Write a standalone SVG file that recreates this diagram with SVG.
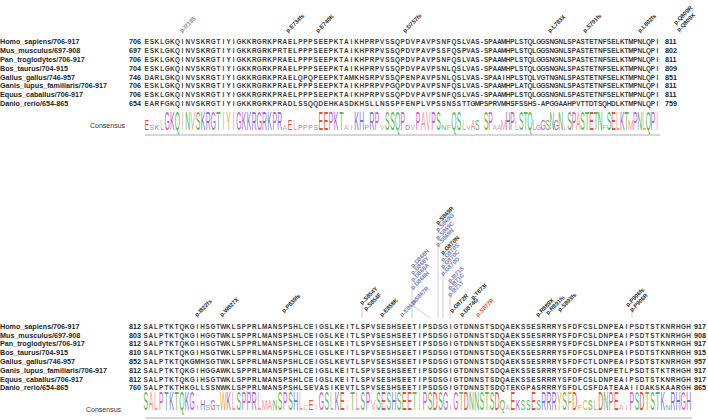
<svg xmlns="http://www.w3.org/2000/svg" width="708" height="420" viewBox="0 0 708 420">
<style>
.sp{font:bold 7.2px "Liberation Sans",Arial,sans-serif;fill:#1e1e1e}
.num{font:bold 7.2px "Liberation Sans",Arial,sans-serif;fill:#1e1e1e}
.sq{font:bold 6.4px "Liberation Sans",Arial,sans-serif;fill:#3a3a3a;text-anchor:middle}
.cons{font:7px "Liberation Sans",Arial,sans-serif;fill:#333}
.lg{font:6.8px "Liberation Sans",Arial,sans-serif;text-anchor:middle}
.mt{font:bold 5.8px "Liberation Sans",Arial,sans-serif;fill:#2a2a2a}
.mb{fill:#7a7ab0}
.mr{fill:#e0503c}
.ld{stroke:#b0b0b0;stroke-width:0.6;fill:none}
.base{stroke:#c8c8c8;stroke-width:1.6}
.D,.E{fill:#e5533f}
.K,.R,.H{fill:#7f72d8}
.S,.T,.N,.Q{fill:#58b858}
.P,.G{fill:#d263c4}
.I,.L,.V,.A,.M{fill:#f19c9c}
.F,.W,.Y{fill:#eeaa30}
.C{fill:#cfc43a}
</style>

<g id="top-block">
<g id="top-names">
<text class="sp" x="0" y="44.3">Homo_sapiens/706-917</text>
<text class="sp" x="0" y="53.1">Mus_musculus/697-908</text>
<text class="sp" x="0" y="61.9">Pan_troglodytes/706-917</text>
<text class="sp" x="0" y="70.7">Bos_taurus/704-915</text>
<text class="sp" x="0" y="79.5">Gallus_gallus/746-957</text>
<text class="sp" x="0" y="88.4">Ganis_lupus_familiaris/706-917</text>
<text class="sp" x="0" y="97.2">Equus_caballus/706-917</text>
<text class="sp" x="0" y="106">Danio_rerio/654-865</text>
</g>
<g id="top-start">
<text class="num" x="129" y="44.3">706</text>
<text class="num" x="129" y="53.1">697</text>
<text class="num" x="129" y="61.9">706</text>
<text class="num" x="129" y="70.7">704</text>
<text class="num" x="129" y="79.5">746</text>
<text class="num" x="129" y="88.4">706</text>
<text class="num" x="129" y="97.2">706</text>
<text class="num" x="129" y="106">654</text>
</g>
<g id="top-end">
<text class="num" x="665" y="44.3">811</text>
<text class="num" x="665" y="53.1">802</text>
<text class="num" x="665" y="61.9">811</text>
<text class="num" x="665" y="70.7">809</text>
<text class="num" x="665" y="79.5">851</text>
<text class="num" x="665" y="88.4">811</text>
<text class="num" x="665" y="97.2">811</text>
<text class="num" x="665" y="106">759</text>
</g>
<g id="top-seq">
<text class="sq" y="44.3" x="146.7 151.8 156.9 162.1 167.2 172.3 177.4 182.5 187.7 192.8 197.9 203 208.1 213.3 218.4 223.5 228.6 233.7 238.9 244 249.1 254.2 259.3 264.5 269.6 274.7 279.8 284.9 290.1 295.2 300.3 305.4 310.5 315.7 320.8 325.9 331 336.1 341.3 346.4 351.5 356.6 361.7 366.9 372 377.1 382.2 387.3 392.5 397.6 402.7 407.8 412.9 418.1 423.2 428.3 433.4 438.5 443.7 448.8 453.9 459 464.1 468.5 472.9 477.3 481.7 486.1 490.4 494.8 499.2 503.6 508 512.4 516.8 521.2 525.6 530 534.3 538.7 543.1 547.5 551.9 556.3 560.7 565.1 569.5 573.9 578.3 582.6 587 591.4 595.8 600.2 604.6 609 613.4 617.8 622.2 626.5 630.9 635.3 639.7 644.1 648.5 652.9 657.3">ESKLGKQINVSKRGTIYIGKKRGRKPRAELPPPSEEPKTAIKHPRPVSSQPDVPAVPSNFQSLVAS-SPAAMHPLSTQLGGSNGNLSPASTETNFSELKTMPNLQPI</text>
<text class="sq" y="53.1" x="146.7 151.8 156.9 162.1 167.2 172.3 177.4 182.5 187.7 192.8 197.9 203 208.1 213.3 218.4 223.5 228.6 233.7 238.9 244 249.1 254.2 259.3 264.5 269.6 274.7 279.8 284.9 290.1 295.2 300.3 305.4 310.5 315.7 320.8 325.9 331 336.1 341.3 346.4 351.5 356.6 361.7 366.9 372 377.1 382.2 387.3 392.5 397.6 402.7 407.8 412.9 418.1 423.2 428.3 433.4 438.5 443.7 448.8 453.9 459 464.1 468.5 472.9 477.3 481.7 486.1 490.4 494.8 499.2 503.6 508 512.4 516.8 521.2 525.6 530 534.3 538.7 543.1 547.5 551.9 556.3 560.7 565.1 569.5 573.9 578.3 582.6 587 591.4 595.8 600.2 604.6 609 613.4 617.8 622.2 626.5 630.9 635.3 639.7 644.1 648.5 652.9 657.3">ESKLGKQINVSKRGTIYIGKKRGRKPRTELPPPSEEPKTAIKHPRPVSSQPDVPAVPSSFQSPVAS-SPAAMHPLSTQLGGSNGNLSPASTETNFSELKTMPNLQPI</text>
<text class="sq" y="61.9" x="146.7 151.8 156.9 162.1 167.2 172.3 177.4 182.5 187.7 192.8 197.9 203 208.1 213.3 218.4 223.5 228.6 233.7 238.9 244 249.1 254.2 259.3 264.5 269.6 274.7 279.8 284.9 290.1 295.2 300.3 305.4 310.5 315.7 320.8 325.9 331 336.1 341.3 346.4 351.5 356.6 361.7 366.9 372 377.1 382.2 387.3 392.5 397.6 402.7 407.8 412.9 418.1 423.2 428.3 433.4 438.5 443.7 448.8 453.9 459 464.1 468.5 472.9 477.3 481.7 486.1 490.4 494.8 499.2 503.6 508 512.4 516.8 521.2 525.6 530 534.3 538.7 543.1 547.5 551.9 556.3 560.7 565.1 569.5 573.9 578.3 582.6 587 591.4 595.8 600.2 604.6 609 613.4 617.8 622.2 626.5 630.9 635.3 639.7 644.1 648.5 652.9 657.3">ESKLGKQINVSKRGTIYIGKKRGRKPRAELPPPSEEPKTAIKHPRPVSSQPDVPAVPSNFQSLVAS-SPAAMHPLSTQLGGSNGNLSPASTETNFSELKTMPNLQPI</text>
<text class="sq" y="70.7" x="146.7 151.8 156.9 162.1 167.2 172.3 177.4 182.5 187.7 192.8 197.9 203 208.1 213.3 218.4 223.5 228.6 233.7 238.9 244 249.1 254.2 259.3 264.5 269.6 274.7 279.8 284.9 290.1 295.2 300.3 305.4 310.5 315.7 320.8 325.9 331 336.1 341.3 346.4 351.5 356.6 361.7 366.9 372 377.1 382.2 387.3 392.5 397.6 402.7 407.8 412.9 418.1 423.2 428.3 433.4 438.5 443.7 448.8 453.9 459 464.1 468.5 472.9 477.3 481.7 486.1 490.4 494.8 499.2 503.6 508 512.4 516.8 521.2 525.6 530 534.3 538.7 543.1 547.5 551.9 556.3 560.7 565.1 569.5 573.9 578.3 582.6 587 591.4 595.8 600.2 604.6 609 613.4 617.8 622.2 626.5 630.9 635.3 639.7 644.1 648.5 652.9 657.3">ESKLGKQINVSKRGTIYIGKKRGRKPRAELPPPSEEPKTAIKHPRPVSSQPDVPAVPSNLQSLVAS-SPAAMHPLSTQLGGSNGNLSPASTETNFSELKTMPNLQPI</text>
<text class="sq" y="79.5" x="146.7 151.8 156.9 162.1 167.2 172.3 177.4 182.5 187.7 192.8 197.9 203 208.1 213.3 218.4 223.5 228.6 233.7 238.9 244 249.1 254.2 259.3 264.5 269.6 274.7 279.8 284.9 290.1 295.2 300.3 305.4 310.5 315.7 320.8 325.9 331 336.1 341.3 346.4 351.5 356.6 361.7 366.9 372 377.1 382.2 387.3 392.5 397.6 402.7 407.8 412.9 418.1 423.2 428.3 433.4 438.5 443.7 448.8 453.9 459 464.1 468.5 472.9 477.3 481.7 486.1 490.4 494.8 499.2 503.6 508 512.4 516.8 521.2 525.6 530 534.3 538.7 543.1 547.5 551.9 556.3 560.7 565.1 569.5 573.9 578.3 582.6 587 591.4 595.8 600.2 604.6 609 613.4 617.8 622.2 626.5 630.9 635.3 639.7 644.1 648.5 652.9 657.3">DARLGKQINVSKRGTIYIGKKRGRKPRAELQPQPEEPKTAMKHSRPVSSQPENPAVPSNLQSLVAS-SPAAIHPLSTQLVGTNGNLSPASTETNFSELKTMPNLQPI</text>
<text class="sq" y="88.4" x="146.7 151.8 156.9 162.1 167.2 172.3 177.4 182.5 187.7 192.8 197.9 203 208.1 213.3 218.4 223.5 228.6 233.7 238.9 244 249.1 254.2 259.3 264.5 269.6 274.7 279.8 284.9 290.1 295.2 300.3 305.4 310.5 315.7 320.8 325.9 331 336.1 341.3 346.4 351.5 356.6 361.7 366.9 372 377.1 382.2 387.3 392.5 397.6 402.7 407.8 412.9 418.1 423.2 428.3 433.4 438.5 443.7 448.8 453.9 459 464.1 468.5 472.9 477.3 481.7 486.1 490.4 494.8 499.2 503.6 508 512.4 516.8 521.2 525.6 530 534.3 538.7 543.1 547.5 551.9 556.3 560.7 565.1 569.5 573.9 578.3 582.6 587 591.4 595.8 600.2 604.6 609 613.4 617.8 622.2 626.5 630.9 635.3 639.7 644.1 648.5 652.9 657.3">ESKLGKQINVSKRGTIYIGKKRGRKPRAELPPPSEEPKTAIKHPRPVPGQPDVPAVPSNFQSLVAS-SPAAMHPLATQLGGSNGNLSPASTETNFSELKTMPNLQPI</text>
<text class="sq" y="97.2" x="146.7 151.8 156.9 162.1 167.2 172.3 177.4 182.5 187.7 192.8 197.9 203 208.1 213.3 218.4 223.5 228.6 233.7 238.9 244 249.1 254.2 259.3 264.5 269.6 274.7 279.8 284.9 290.1 295.2 300.3 305.4 310.5 315.7 320.8 325.9 331 336.1 341.3 346.4 351.5 356.6 361.7 366.9 372 377.1 382.2 387.3 392.5 397.6 402.7 407.8 412.9 418.1 423.2 428.3 433.4 438.5 443.7 448.8 453.9 459 464.1 468.5 472.9 477.3 481.7 486.1 490.4 494.8 499.2 503.6 508 512.4 516.8 521.2 525.6 530 534.3 538.7 543.1 547.5 551.9 556.3 560.7 565.1 569.5 573.9 578.3 582.6 587 591.4 595.8 600.2 604.6 609 613.4 617.8 622.2 626.5 630.9 635.3 639.7 644.1 648.5 652.9 657.3">ESKLGKQINVSKRGTIYIGKKRGRKPRAELPPPSEEPKTAIKHPRPVSSQPDVPAVPSNFQSLVAS-SPAAMHPLSTQLGGSNGNLSPASTETNFSELKTMPNLQPI</text>
<text class="sq" y="106" x="146.7 151.8 156.9 162.1 167.2 172.3 177.4 182.5 187.7 192.8 197.9 203 208.1 213.3 218.4 223.5 228.6 233.7 238.9 244 249.1 254.2 259.3 264.5 269.6 274.7 279.8 284.9 290.1 295.2 300.3 305.4 310.5 315.7 320.8 325.9 331 336.1 341.3 346.4 351.5 356.6 361.7 366.9 372 377.1 382.2 387.3 392.5 397.6 402.7 407.8 412.9 418.1 423.2 428.3 433.4 438.5 443.7 448.8 453.9 459 464.1 468.5 472.9 477.3 481.7 486.1 490.4 494.8 499.2 503.6 508 512.4 516.8 521.2 525.6 530 534.3 538.7 543.1 547.5 551.9 556.3 560.7 565.1 569.5 573.9 578.3 582.6 587 591.4 595.8 600.2 604.6 609 613.4 617.8 622.2 626.5 630.9 635.3 639.7 644.1 648.5 652.9 657.3">EARFGKQINVSKRGTIYIGKKRGRKPRADLSSQQDEHKASDKHSLLNSSPFENPLVPSSNSSTTGMPSPRVMHSFSSHS-APGGAAHPVTTDTSQHDLKTMPNLQPI</text>
</g>
<text class="cons" x="90" y="128">Consensus</text>
<g id="top-logo">
<text class="lg" transform="translate(0,129.5) scale(1,3.7)"><tspan class="G" x="167.2">G</tspan><tspan class="K" x="172.3">K</tspan><tspan class="Q" x="177.4">Q</tspan><tspan class="I" x="182.5">I</tspan><tspan class="N" x="187.7">N</tspan><tspan class="V" x="192.8">V</tspan><tspan class="S" x="197.9">S</tspan><tspan class="K" x="203">K</tspan><tspan class="R" x="208.1">R</tspan><tspan class="G" x="213.3">G</tspan><tspan class="T" x="218.4">T</tspan><tspan class="I" x="223.5">I</tspan><tspan class="Y" x="228.6">Y</tspan><tspan class="I" x="233.7">I</tspan><tspan class="G" x="238.9">G</tspan><tspan class="K" x="244">K</tspan><tspan class="K" x="249.1">K</tspan><tspan class="R" x="254.2">R</tspan><tspan class="G" x="259.3">G</tspan><tspan class="R" x="264.5">R</tspan><tspan class="K" x="269.6">K</tspan><tspan class="P" x="274.7">P</tspan><tspan class="R" x="279.8">R</tspan><tspan class="E" x="320.8">E</tspan><tspan class="E" x="325.9">E</tspan><tspan class="P" x="331">P</tspan><tspan class="K" x="336.1">K</tspan><tspan class="T" x="341.3">T</tspan><tspan class="K" x="356.6">K</tspan><tspan class="H" x="361.7">H</tspan><tspan class="R" x="372">R</tspan><tspan class="P" x="377.1">P</tspan><tspan class="S" x="387.3">S</tspan><tspan class="S" x="392.5">S</tspan><tspan class="Q" x="397.6">Q</tspan><tspan class="P" x="402.7">P</tspan><tspan class="P" x="418.1">P</tspan><tspan class="A" x="423.2">A</tspan><tspan class="V" x="428.3">V</tspan><tspan class="P" x="433.4">P</tspan><tspan class="S" x="438.5">S</tspan><tspan class="Q" x="453.9">Q</tspan><tspan class="S" x="459">S</tspan><tspan class="S" x="486.1">S</tspan><tspan class="P" x="490.4">P</tspan><tspan class="H" x="508">H</tspan><tspan class="P" x="512.4">P</tspan><tspan class="S" x="521.2">S</tspan><tspan class="T" x="525.6">T</tspan><tspan class="Q" x="530">Q</tspan><tspan class="N" x="551.9">N</tspan><tspan class="N" x="560.7">N</tspan><tspan class="S" x="569.5">S</tspan><tspan class="P" x="573.9">P</tspan><tspan class="A" x="578.3">A</tspan><tspan class="S" x="582.6">S</tspan><tspan class="T" x="587">T</tspan><tspan class="E" x="591.4">E</tspan><tspan class="T" x="595.8">T</tspan><tspan class="N" x="600.2">N</tspan><tspan class="S" x="609">S</tspan><tspan class="E" x="613.4">E</tspan><tspan class="L" x="617.8">L</tspan><tspan class="K" x="622.2">K</tspan><tspan class="T" x="626.5">T</tspan><tspan class="P" x="635.3">P</tspan><tspan class="N" x="639.7">N</tspan><tspan class="L" x="644.1">L</tspan><tspan class="Q" x="648.5">Q</tspan><tspan class="P" x="652.9">P</tspan><tspan class="I" x="657.3">I</tspan></text>
<text class="lg" transform="translate(0,129.5) scale(1,2.26)"><tspan class="E" x="146.7">E</tspan><tspan class="L" x="162.1">L</tspan><tspan class="E" x="290.1">E</tspan><tspan class="L" x="295.2">L</tspan><tspan class="L" x="464.1">L</tspan><tspan class="A" x="472.9">A</tspan><tspan class="S" x="477.3">S</tspan><tspan class="M" x="503.6">M</tspan><tspan class="L" x="516.8">L</tspan><tspan class="L" x="534.3">L</tspan><tspan class="G" x="543.1">G</tspan><tspan class="S" x="547.5">S</tspan><tspan class="G" x="556.3">G</tspan><tspan class="M" x="630.9">M</tspan></text>
<text class="lg" transform="translate(0,129.5) scale(1,1.13)"><tspan class="S" x="151.8">S</tspan><tspan class="K" x="156.9">K</tspan><tspan class="A" x="284.9">A</tspan><tspan class="P" x="300.3">P</tspan><tspan class="P" x="305.4">P</tspan><tspan class="P" x="310.5">P</tspan><tspan class="S" x="315.7">S</tspan><tspan class="A" x="346.4">A</tspan><tspan class="I" x="351.5">I</tspan><tspan class="P" x="366.9">P</tspan><tspan class="V" x="382.2">V</tspan><tspan class="D" x="407.8">D</tspan><tspan class="V" x="412.9">V</tspan><tspan class="N" x="443.7">N</tspan><tspan class="F" x="448.8">F</tspan><tspan class="V" x="468.5">V</tspan><tspan class="A" x="494.8">A</tspan><tspan class="A" x="499.2">A</tspan><tspan class="G" x="538.7">G</tspan><tspan class="L" x="565.1">L</tspan><tspan class="F" x="604.6">F</tspan></text>
<line class="base" x1="145" y1="135" x2="660" y2="135"/>
</g>
<g id="top-mutations">
<text class="mt mb" transform="translate(182,33) rotate(-45)">p.I713S</text>
<text class="mt" transform="translate(288,33) rotate(-45)">p.E734fs</text>
<text class="mt" transform="translate(318,33) rotate(-45)">p.E740K</text>
<text class="mt" transform="translate(405,33) rotate(-45)">p.D757fs</text>
<text class="mt" transform="translate(550,33) rotate(-45)">p.L783X</text>
<text class="mt" transform="translate(585,33) rotate(-45)">p.S791fs</text>
<text class="mt" transform="translate(640,33) rotate(-45)">p.L802fs</text>
<text class="mt" transform="translate(676,25) rotate(-45)">p.Q809R</text>
<text class="mt" transform="translate(679,32) rotate(-45)">p.Q809X</text>
</g>
</g>

<g id="bottom-block">
<g id="bottom-names">
<text class="sp" x="0" y="328.7">Homo_sapiens/706-917</text>
<text class="sp" x="0" y="337.5">Mus_musculus/697-908</text>
<text class="sp" x="0" y="346.3">Pan_troglodytes/706-917</text>
<text class="sp" x="0" y="355.1">Bos_taurus/704-915</text>
<text class="sp" x="0" y="363.9">Gallus_gallus/746-957</text>
<text class="sp" x="0" y="372.7">Ganis_lupus_familiaris/706-917</text>
<text class="sp" x="0" y="381.5">Equus_caballus/706-917</text>
<text class="sp" x="0" y="390.3">Danio_rerio/654-865</text>
</g>
<g id="bottom-start">
<text class="num" x="129" y="328.7">812</text>
<text class="num" x="129" y="337.5">803</text>
<text class="num" x="129" y="346.3">812</text>
<text class="num" x="129" y="355.1">810</text>
<text class="num" x="129" y="363.9">852</text>
<text class="num" x="129" y="372.7">812</text>
<text class="num" x="129" y="381.5">812</text>
<text class="num" x="129" y="390.3">760</text>
</g>
<g id="bottom-end">
<text class="num" x="694" y="328.7">917</text>
<text class="num" x="694" y="337.5">908</text>
<text class="num" x="694" y="346.3">917</text>
<text class="num" x="694" y="355.1">915</text>
<text class="num" x="694" y="363.9">957</text>
<text class="num" x="694" y="372.7">917</text>
<text class="num" x="694" y="381.5">917</text>
<text class="num" x="694" y="390.3">865</text>
</g>
<g id="bottom-seq">
<text class="sq" y="328.7" x="145.7 150.9 156 161.2 166.4 171.6 176.7 181.9 187.1 192.2 197.4 202.6 207.7 212.9 218.1 223.3 228.4 233.6 238.8 243.9 249.1 254.3 259.4 264.6 269.8 275 280.1 285.3 290.5 295.6 300.8 306 311.1 316.3 321.5 326.7 331.8 337 342.2 347.3 352.5 357.7 362.8 368 373.2 378.4 383.5 388.7 393.9 399 404.2 409.4 414.5 419.7 424.9 430.1 435.2 440.4 445.6 450.7 455.9 461.1 466.2 471.4 476.6 481.8 486.9 492.1 497.3 502.4 507.6 512.8 517.9 523.1 528.3 533.5 538.6 543.8 549 554.1 559.3 564.5 569.6 574.8 580 585.2 590.3 595.5 600.7 605.8 611 616.2 621.3 626.5 631.7 636.9 642 647.2 652.4 657.5 662.7 667.9 673 678.2 683.4 688.6">SALPTKTQKGIHSGTWKLSPPRLMANSPSHLCEIGSLKEITLSPVSESHSEETIPSDSGIGTDNNSTSDQAEKSSESRRRYSFDFCSLDNPEAIPSDTSTKNRHGH</text>
<text class="sq" y="337.5" x="145.7 150.9 156 161.2 166.4 171.6 176.7 181.9 187.1 192.2 197.4 202.6 207.7 212.9 218.1 223.3 228.4 233.6 238.8 243.9 249.1 254.3 259.4 264.6 269.8 275 280.1 285.3 290.5 295.6 300.8 306 311.1 316.3 321.5 326.7 331.8 337 342.2 347.3 352.5 357.7 362.8 368 373.2 378.4 383.5 388.7 393.9 399 404.2 409.4 414.5 419.7 424.9 430.1 435.2 440.4 445.6 450.7 455.9 461.1 466.2 471.4 476.6 481.8 486.9 492.1 497.3 502.4 507.6 512.8 517.9 523.1 528.3 533.5 538.6 543.8 549 554.1 559.3 564.5 569.6 574.8 580 585.2 590.3 595.5 600.7 605.8 611 616.2 621.3 626.5 631.7 636.9 642 647.2 652.4 657.5 662.7 667.9 673 678.2 683.4 688.6">SALPTKTQKGIHGGTWKLSPPRLMANSPSHLCEIGSLKEITLSPVSESHSEETIPSDSGIGTDNNSTSDQAEKSSESRRRYSFDFCSLDNPEAIPSDTSTKNRHGH</text>
<text class="sq" y="346.3" x="145.7 150.9 156 161.2 166.4 171.6 176.7 181.9 187.1 192.2 197.4 202.6 207.7 212.9 218.1 223.3 228.4 233.6 238.8 243.9 249.1 254.3 259.4 264.6 269.8 275 280.1 285.3 290.5 295.6 300.8 306 311.1 316.3 321.5 326.7 331.8 337 342.2 347.3 352.5 357.7 362.8 368 373.2 378.4 383.5 388.7 393.9 399 404.2 409.4 414.5 419.7 424.9 430.1 435.2 440.4 445.6 450.7 455.9 461.1 466.2 471.4 476.6 481.8 486.9 492.1 497.3 502.4 507.6 512.8 517.9 523.1 528.3 533.5 538.6 543.8 549 554.1 559.3 564.5 569.6 574.8 580 585.2 590.3 595.5 600.7 605.8 611 616.2 621.3 626.5 631.7 636.9 642 647.2 652.4 657.5 662.7 667.9 673 678.2 683.4 688.6">SALPTKTQKGIHSGTWKLSPPRLMANSPSHLCEIGSLKEITLSPVSESHSEETIPSDSGIGTDNNSTSDQAEKSSESRRRYSFDFCSLDNPEAIPSDTSTKNRHGH</text>
<text class="sq" y="355.1" x="145.7 150.9 156 161.2 166.4 171.6 176.7 181.9 187.1 192.2 197.4 202.6 207.7 212.9 218.1 223.3 228.4 233.6 238.8 243.9 249.1 254.3 259.4 264.6 269.8 275 280.1 285.3 290.5 295.6 300.8 306 311.1 316.3 321.5 326.7 331.8 337 342.2 347.3 352.5 357.7 362.8 368 373.2 378.4 383.5 388.7 393.9 399 404.2 409.4 414.5 419.7 424.9 430.1 435.2 440.4 445.6 450.7 455.9 461.1 466.2 471.4 476.6 481.8 486.9 492.1 497.3 502.4 507.6 512.8 517.9 523.1 528.3 533.5 538.6 543.8 549 554.1 559.3 564.5 569.6 574.8 580 585.2 590.3 595.5 600.7 605.8 611 616.2 621.3 626.5 631.7 636.9 642 647.2 652.4 657.5 662.7 667.9 673 678.2 683.4 688.6">SALPTKTQKGIHSGTWKLSPPRLMANSPSHLCEIGSLKEITLSPVSESHSEETIPSDSGIGTDNNSTSDQAEKSSESRRRYSFDFCSLDNPEAIPSDTSTKNRHGH</text>
<text class="sq" y="363.9" x="145.7 150.9 156 161.2 166.4 171.6 176.7 181.9 187.1 192.2 197.4 202.6 207.7 212.9 218.1 223.3 228.4 233.6 238.8 243.9 249.1 254.3 259.4 264.6 269.8 275 280.1 285.3 290.5 295.6 300.8 306 311.1 316.3 321.5 326.7 331.8 337 342.2 347.3 352.5 357.7 362.8 368 373.2 378.4 383.5 388.7 393.9 399 404.2 409.4 414.5 419.7 424.9 430.1 435.2 440.4 445.6 450.7 455.9 461.1 466.2 471.4 476.6 481.8 486.9 492.1 497.3 502.4 507.6 512.8 517.9 523.1 528.3 533.5 538.6 543.8 549 554.1 559.3 564.5 569.6 574.8 580 585.2 590.3 595.5 600.7 605.8 611 616.2 621.3 626.5 631.7 636.9 642 647.2 652.4 657.5 662.7 667.9 673 678.2 683.4 688.6">SALPTKTQKGMHSGTWKLSPPRLMANSPSHLCEIGSLKEVTLSPVSESHSEETIPSDSGIGTDNNSTSDQAEKSSESRRRYSFDFCTLDNPEAIPSDTSTKNRHGH</text>
<text class="sq" y="372.7" x="145.7 150.9 156 161.2 166.4 171.6 176.7 181.9 187.1 192.2 197.4 202.6 207.7 212.9 218.1 223.3 228.4 233.6 238.8 243.9 249.1 254.3 259.4 264.6 269.8 275 280.1 285.3 290.5 295.6 300.8 306 311.1 316.3 321.5 326.7 331.8 337 342.2 347.3 352.5 357.7 362.8 368 373.2 378.4 383.5 388.7 393.9 399 404.2 409.4 414.5 419.7 424.9 430.1 435.2 440.4 445.6 450.7 455.9 461.1 466.2 471.4 476.6 481.8 486.9 492.1 497.3 502.4 507.6 512.8 517.9 523.1 528.3 533.5 538.6 543.8 549 554.1 559.3 564.5 569.6 574.8 580 585.2 590.3 595.5 600.7 605.8 611 616.2 621.3 626.5 631.7 636.9 642 647.2 652.4 657.5 662.7 667.9 673 678.2 683.4 688.6">SALPTKTQKGIHGGAWKLSPPRLMANSPSHLCEIGSLKEITLSPVSESHSEETIPSDSGIGTDNNSTSDQAEKSSESRRRYSFDFCSLDNPETLPSDTSTKTRHGH</text>
<text class="sq" y="381.5" x="145.7 150.9 156 161.2 166.4 171.6 176.7 181.9 187.1 192.2 197.4 202.6 207.7 212.9 218.1 223.3 228.4 233.6 238.8 243.9 249.1 254.3 259.4 264.6 269.8 275 280.1 285.3 290.5 295.6 300.8 306 311.1 316.3 321.5 326.7 331.8 337 342.2 347.3 352.5 357.7 362.8 368 373.2 378.4 383.5 388.7 393.9 399 404.2 409.4 414.5 419.7 424.9 430.1 435.2 440.4 445.6 450.7 455.9 461.1 466.2 471.4 476.6 481.8 486.9 492.1 497.3 502.4 507.6 512.8 517.9 523.1 528.3 533.5 538.6 543.8 549 554.1 559.3 564.5 569.6 574.8 580 585.2 590.3 595.5 600.7 605.8 611 616.2 621.3 626.5 631.7 636.9 642 647.2 652.4 657.5 662.7 667.9 673 678.2 683.4 688.6">SALPTKTQKGIHSGTWKLSPPRLMANSPSHLCEIGSLKEITLSPVSESHSEETIPSDSGIGTDNNSTSDQAEKSSESRRRYSFDFCSLDNPEAIPSDTSTKNRHGH</text>
<text class="sq" y="390.3" x="145.7 150.9 156 161.2 166.4 171.6 176.7 181.9 187.1 192.2 197.4 202.6 207.7 212.9 218.1 223.3 228.4 233.6 238.8 243.9 249.1 254.3 259.4 264.6 269.8 275 280.1 285.3 290.5 295.6 300.8 306 311.1 316.3 321.5 326.7 331.8 337 342.2 347.3 352.5 357.7 362.8 368 373.2 378.4 383.5 388.7 393.9 399 404.2 409.4 414.5 419.7 424.9 430.1 435.2 440.4 445.6 450.7 455.9 461.1 466.2 471.4 476.6 481.8 486.9 492.1 497.3 502.4 507.6 512.8 517.9 523.1 528.3 533.5 538.6 543.8 549 554.1 559.3 564.5 569.6 574.8 580 585.2 590.3 595.5 600.7 605.8 611 616.2 621.3 626.5 631.7 636.9 642 647.2 652.4 657.5 662.7 667.9 673 678.2 683.4 688.6">SALPTKTHKGLLSSNWKLSPPRLMANSPSHLSEVASIKEVTLSPVSESHSEETIPSDSGIGTDNNSTSDQTEKGPASRRRYSFDLCSFDATEAAIIDAKSKAARGH</text>
</g>
<text class="cons" x="86" y="412">Consensus</text>
<g id="bottom-logo">
<text class="lg" transform="translate(0,409.5) scale(1,3.7)"><tspan class="S" x="145.7">S</tspan><tspan class="A" x="150.9">A</tspan><tspan class="L" x="156">L</tspan><tspan class="P" x="161.2">P</tspan><tspan class="T" x="166.4">T</tspan><tspan class="K" x="171.6">K</tspan><tspan class="T" x="176.7">T</tspan><tspan class="Q" x="181.9">Q</tspan><tspan class="K" x="187.1">K</tspan><tspan class="G" x="192.2">G</tspan><tspan class="W" x="223.3">W</tspan><tspan class="K" x="228.4">K</tspan><tspan class="L" x="233.6">L</tspan><tspan class="S" x="238.8">S</tspan><tspan class="P" x="243.9">P</tspan><tspan class="P" x="249.1">P</tspan><tspan class="R" x="254.3">R</tspan><tspan class="L" x="259.4">L</tspan><tspan class="S" x="280.1">S</tspan><tspan class="P" x="285.3">P</tspan><tspan class="S" x="290.5">S</tspan><tspan class="H" x="295.6">H</tspan><tspan class="L" x="300.8">L</tspan><tspan class="G" x="321.5">G</tspan><tspan class="S" x="326.7">S</tspan><tspan class="L" x="331.8">L</tspan><tspan class="K" x="337">K</tspan><tspan class="E" x="342.2">E</tspan><tspan class="T" x="352.5">T</tspan><tspan class="L" x="357.7">L</tspan><tspan class="S" x="362.8">S</tspan><tspan class="P" x="368">P</tspan><tspan class="S" x="378.4">S</tspan><tspan class="E" x="383.5">E</tspan><tspan class="S" x="388.7">S</tspan><tspan class="H" x="393.9">H</tspan><tspan class="S" x="399">S</tspan><tspan class="E" x="404.2">E</tspan><tspan class="E" x="409.4">E</tspan><tspan class="T" x="414.5">T</tspan><tspan class="I" x="419.7">I</tspan><tspan class="P" x="424.9">P</tspan><tspan class="S" x="430.1">S</tspan><tspan class="D" x="435.2">D</tspan><tspan class="S" x="440.4">S</tspan><tspan class="G" x="445.6">G</tspan><tspan class="G" x="455.9">G</tspan><tspan class="T" x="461.1">T</tspan><tspan class="D" x="466.2">D</tspan><tspan class="N" x="471.4">N</tspan><tspan class="N" x="476.6">N</tspan><tspan class="S" x="481.8">S</tspan><tspan class="T" x="486.9">T</tspan><tspan class="S" x="492.1">S</tspan><tspan class="D" x="497.3">D</tspan><tspan class="E" x="512.8">E</tspan><tspan class="E" x="533.5">E</tspan><tspan class="R" x="543.8">R</tspan><tspan class="R" x="549">R</tspan><tspan class="R" x="554.1">R</tspan><tspan class="Y" x="559.3">Y</tspan><tspan class="S" x="564.5">S</tspan><tspan class="F" x="569.6">F</tspan><tspan class="D" x="574.8">D</tspan><tspan class="D" x="600.7">D</tspan><tspan class="N" x="605.8">N</tspan><tspan class="P" x="611">P</tspan><tspan class="E" x="616.2">E</tspan><tspan class="P" x="631.7">P</tspan><tspan class="S" x="636.9">S</tspan><tspan class="D" x="642">D</tspan><tspan class="T" x="647.2">T</tspan><tspan class="S" x="652.4">S</tspan><tspan class="T" x="657.5">T</tspan><tspan class="K" x="662.7">K</tspan><tspan class="R" x="673">R</tspan><tspan class="H" x="678.2">H</tspan><tspan class="G" x="683.4">G</tspan><tspan class="H" x="688.6">H</tspan></text>
<text class="lg" transform="translate(0,409.5) scale(1,2.26)"><tspan class="H" x="202.6">H</tspan><tspan class="G" x="212.9">G</tspan><tspan class="M" x="264.6">M</tspan><tspan class="A" x="269.8">A</tspan><tspan class="N" x="275">N</tspan><tspan class="E" x="311.1">E</tspan><tspan class="V" x="373.2">V</tspan><tspan class="Q" x="502.4">Q</tspan><tspan class="K" x="517.9">K</tspan><tspan class="S" x="523.1">S</tspan><tspan class="S" x="528.3">S</tspan><tspan class="S" x="538.6">S</tspan><tspan class="C" x="585.2">C</tspan><tspan class="S" x="590.3">S</tspan><tspan class="L" x="595.5">L</tspan></text>
<text class="lg" transform="translate(0,409.5) scale(1,1.13)"><tspan class="I" x="197.4">I</tspan><tspan class="S" x="207.7">S</tspan><tspan class="T" x="218.1">T</tspan><tspan class="C" x="306">C</tspan><tspan class="I" x="316.3">I</tspan><tspan class="I" x="347.3">I</tspan><tspan class="I" x="450.7">I</tspan><tspan class="A" x="507.6">A</tspan><tspan class="F" x="580">F</tspan><tspan class="A" x="621.3">A</tspan><tspan class="I" x="626.5">I</tspan><tspan class="N" x="667.9">N</tspan></text>
<line class="base" x1="145" y1="418" x2="692" y2="418"/>
</g>
<g id="connectors">
<path class="ld" d="M362 306V318M412 282V318M438 225V318M443 253V318M450 280V318M413 306L430 318M632 308V318"/>
</g>
<g id="bottom-mutations">
<text class="mt" transform="translate(197,317) rotate(-45)">p.I822fs</text>
<text class="mt" transform="translate(222,317) rotate(-45)">p.W827X</text>
<text class="mt" transform="translate(284,313) rotate(-45)">p.P839fs</text>
<text class="mt" transform="translate(362,305) rotate(-45)">p.S854Y</text>
<text class="mt" transform="translate(366,311) rotate(-45)">p.S854F</text>
<text class="mt" transform="translate(382,317) rotate(-45)">p.E858K</text>
<text class="mt mb" transform="translate(402,317) rotate(-45)">p.E862K</text>
<text class="mt mb" transform="translate(413,305) rotate(-45)">p.S867R</text>
<text class="mt mb" transform="translate(413,268) rotate(-45)">p.D868N</text>
<text class="mt mb" transform="translate(413,275) rotate(-45)">p.D868Y</text>
<text class="mt mb" transform="translate(413,282) rotate(-45)">p.D868A</text>
<text class="mt mb" transform="translate(413,290) rotate(-45)">p.D868H</text>
<text class="mt" transform="translate(438,225) rotate(-45)">p.S869R</text>
<text class="mt mb" transform="translate(438,232) rotate(-45)">p.S869G</text>
<text class="mt mb" transform="translate(438,240) rotate(-45)">p.S869C</text>
<text class="mt mb" transform="translate(438,247) rotate(-45)">p.S869N</text>
<text class="mt" transform="translate(443,255) rotate(-45)">p.G870N</text>
<text class="mt mb" transform="translate(443,262) rotate(-45)">p.G870S</text>
<text class="mt mb" transform="translate(443,269) rotate(-45)">p.G870C</text>
<text class="mt mb" transform="translate(443,276) rotate(-45)">p.G870D</text>
<text class="mt mb" transform="translate(450,283) rotate(-45)">p.I871S</text>
<text class="mt mb" transform="translate(450,290) rotate(-45)">p.I871C</text>
<text class="mt mb" transform="translate(450,297) rotate(-45)">p.I871T</text>
<text class="mt" transform="translate(452,313) rotate(-45)">p.G872R</text>
<text class="mt" transform="translate(462,317) rotate(-45)">p.D874G</text>
<text class="mt" transform="translate(473,300) rotate(-45)">p.T873I</text>
<text class="mt mr" transform="translate(478,317) rotate(-45)">p.S877R</text>
<text class="mt" transform="translate(538,317) rotate(-45)">p.R889X</text>
<text class="mt" transform="translate(548,315) rotate(-45)">p.R891fs</text>
<text class="mt" transform="translate(560,312) rotate(-45)">p.S893fs</text>
<text class="mt" transform="translate(628,307) rotate(-45)">p.P906fs</text>
<text class="mt" transform="translate(632,312) rotate(-45)">p.P906R</text>
</g>
</g>
</svg>
